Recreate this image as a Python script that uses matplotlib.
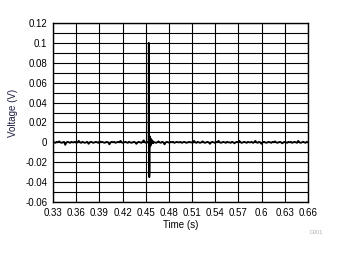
import numpy as np
import matplotlib
matplotlib.use("Agg")
import matplotlib.pyplot as plt

plt.rcParams['font.family'] = ['Liberation Sans', 'DejaVu Sans']

noise_v = [
    0.0005, 0.0000, -0.0005, 0.0005, 0.0000, 0.0010, 0.0000, -0.0005, 0.0000, 0.0005, -0.0025, 0.0000, 0.0005, 0.0000, -0.0005, 0.0005, 0.0000,
    0.0000, 0.0005, -0.0005, 0.0000, 0.0015, 0.0000, -0.0005, 0.0005, 0.0000, -0.0005, 0.0000, 0.0005, -0.0015, 0.0000, 0.0005, 0.0000,
    -0.0005, 0.0000, 0.0005, 0.0000, -0.0005, 0.0010, 0.0000, 0.0005, 0.0000, -0.0005, 0.0000, 0.0005, 0.0000, -0.0020, 0.0000, 0.0005,
    0.0000, 0.0005, -0.0005, 0.0000, 0.0005, 0.0000, 0.0015, 0.0000, -0.0005, 0.0000, 0.0005, 0.0000, -0.0005, 0.0005, 0.0000, -0.0005,
    0.0000, 0.0005, 0.0000, -0.0015, 0.0000, 0.0005, 0.0000, -0.0005, 0.0005, 0.0020, 0.0000, -0.0005, 0.0000, 0.0005, 0.0000, -0.0005,
    0.0000, 0.0005, 0.0000, -0.0005, 0.0000, 0.0010, 0.0000, -0.0005, 0.0005, 0.0000, -0.0020, 0.0000, 0.0005, 0.0000, -0.0005, 0.0005,
    0.0000, 0.0005, -0.0005, 0.0000, 0.0005, 0.0000, 0.0000, 0.0005, -0.0005, 0.0000, 0.0005, 0.0000, -0.0005, 0.0000, 0.0005, 0.0000,
    0.0000, -0.0005, 0.0015, 0.0000, -0.0005, 0.0005, 0.0000, -0.0005, 0.0000, 0.0010, 0.0000, -0.0005, 0.0000, 0.0005, 0.0000, -0.0015,
    0.0000, 0.0005, 0.0000, -0.0005, 0.0005, 0.0000, 0.0015, 0.0000, -0.0005, 0.0000, 0.0005, 0.0000, -0.0005, 0.0005, 0.0000, 0.0000,
    -0.0005, 0.0005, 0.0000, -0.0010, 0.0000, 0.0005, 0.0000, 0.0015, 0.0000, -0.0005, 0.0000, 0.0005, 0.0000, -0.0005, 0.0005, 0.0000,
    0.0000, 0.0005, -0.0005, 0.0000, 0.0015, 0.0000, -0.0005, 0.0005, 0.0000, -0.0015, 0.0000, 0.0005, 0.0000, -0.0005, 0.0000, 0.0005,
    0.0000, -0.0005, 0.0005, 0.0000, 0.0010, 0.0000, -0.0005, 0.0000, 0.0005, 0.0000, -0.0010, 0.0000, 0.0005, 0.0000, -0.0005, 0.0005,
    0.0000, 0.0005, -0.0005, 0.0000, 0.0005, 0.0000, -0.0005, 0.0015, 0.0000, -0.0005, 0.0000, 0.0005, 0.0000, -0.0005, 0.0005, 0.0000,
]
noise_t = np.linspace(0.33, 0.66, len(noise_v))

# transient around 0.454 s
spike_t = [0.4532, 0.4537, 0.4540, 0.4543, 0.4546, 0.4549, 0.4552, 0.4556, 0.4560,
           0.4565, 0.4570, 0.4576, 0.4585, 0.4595]
spike_v = [0.000, 0.001, 0.100, 0.000, -0.035, -0.030, 0.006, -0.004, 0.004,
           -0.003, 0.003, -0.001, 0.002, -0.001]

x_ticks = [0.33, 0.36, 0.39, 0.42, 0.45, 0.48, 0.51, 0.54, 0.57, 0.6, 0.63, 0.66]
x_labels = ['0.33', '0.36', '0.39', '0.42', '0.45', '0.48', '0.51', '0.54', '0.57',
            '0.6', '0.63', '0.66']
y_ticks = [-0.06, -0.04, -0.02, 0, 0.02, 0.04, 0.06, 0.08, 0.1, 0.12]
y_labels = ['-0.06', '-0.04', '-0.02', '0', '0.02', '0.04', '0.06', '0.08', '0.1', '0.12']

# merge baseline and transient, dropping baseline points inside the transient window
keep = (noise_t < spike_t[0]) | (noise_t > spike_t[-1])
t = np.concatenate([noise_t[keep], spike_t])
v = np.concatenate([np.array(noise_v)[keep], spike_v])
order = np.argsort(t)
t, v = t[order], v[order]

fig = plt.figure(figsize=(3.37, 2.54), dpi=100)
ax = fig.add_axes([53 / 337, 1 - 202 / 254, 255 / 337, 179 / 254])

ax.plot(t, v, color='black', lw=1.3, zorder=3)

ax.set_xlim(0.33, 0.66)
ax.set_ylim(-0.06, 0.12)
ax.set_xticks(x_ticks)
ax.set_xticklabels(x_labels)
ax.set_yticks(y_ticks)
ax.set_yticklabels(y_labels)
ax.set_yticks(np.arange(-0.05, 0.12, 0.02), minor=True)
ax.grid(which='both', color='black', lw=0.8)
ax.tick_params(which='both', length=0, labelsize=7, pad=4)
for s in ax.spines.values():
    s.set_color('black')
    s.set_linewidth(1.0)

ax.set_xlabel('Time (s)', fontsize=7, labelpad=2)
ax.set_ylabel('Voltage (V)', fontsize=7, color='#1c1c40', labelpad=5)

fig.text(316 / 337, 1 - 233 / 254, 'D001', fontsize=4, color='#b0b0b0',
         ha='center', va='center')

fig.savefig('out.png', dpi=100)
